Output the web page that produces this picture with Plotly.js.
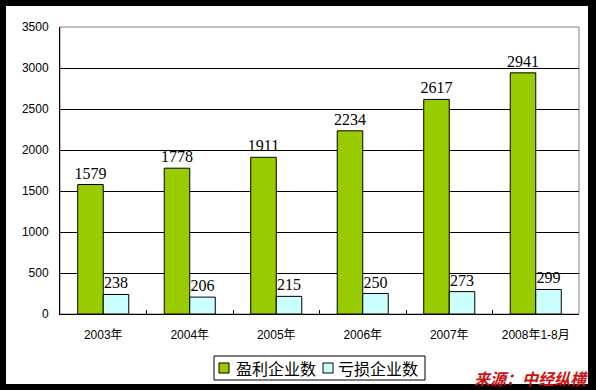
<!DOCTYPE html>
<html><head><meta charset="utf-8">
<script src="https://cdn.plot.ly/plotly-3.0.1.min.js"></script>
<style>
html,body{margin:0;padding:0;background:#000;width:596px;height:390px;overflow:hidden;}
#bg{position:absolute;left:6px;top:6px;width:582px;height:378px;background:#fff;}
#chart{position:absolute;left:0;top:0;width:596px;height:390px;}
</style></head>
<body><div id="bg"></div><div id="chart"></div>
<script>
const categories = ['2003年','2004年','2005年','2006年','2007年','2008年1-8月'];
const profitName = '盈利企业数';
const lossName = '亏损企业数';
const profitValues = [1579,1778,1911,2234,2617,2941];
const lossValues = [238,206,215,250,273,299];
const yTicks = [0,500,1000,1500,2000,2500,3000,3500];
const sourceText = '来源：中经纵横';

const profitColor = '#99CC00', lossColor = '#CCFFFF';
const labelFont = {family:'"Liberation Serif", "DejaVu Serif", serif', size:16, color:'#000'};
const traces = [
  {type:'bar', name:profitName, x:categories, y:profitValues,
   marker:{color:profitColor, line:{color:'#000', width:1}},
   text:profitValues.map(String), textposition:'outside', constraintext:'none',
   textfont:labelFont, cliponaxis:false},
  {type:'bar', name:lossName, x:categories, y:lossValues,
   marker:{color:lossColor, line:{color:'#000', width:1}},
   text:lossValues.map(String), textposition:'outside', constraintext:'none',
   textfont:labelFont, cliponaxis:false}
];

// plot area in page pixels: x 60..579, y 27..314
const PL = 60, PR = 579, PT = 27, PB = 314;
const px = v => (v - PL) / (PR - PL);
const py = v => (PB - v) / (PB - PT);

const legendFont = {family:'"Noto Sans CJK SC", sans-serif', size:16, color:'#000'};
const layout = {
  width:596, height:390,
  margin:{l:PL, r:596-PR, t:PT, b:390-PB},
  paper_bgcolor:'rgba(0,0,0,0)', plot_bgcolor:'#fff',
  barmode:'group', bargap:0.41, bargroupgap:0,
  font:{family:'"Liberation Sans", Arial, sans-serif', size:12, color:'#000'},
  xaxis:{type:'category', showline:true, linecolor:'#000', linewidth:1,
    ticks:'inside', tickson:'boundaries', ticklen:4, tickcolor:'#000',
    tickfont:{family:'"Liberation Sans", "Noto Sans CJK SC", sans-serif', size:12, color:'#000'},
    ticklabelstandoff:10, showgrid:false, fixedrange:true},
  yaxis:{range:[0,3500], tickvals:yTicks, ticktext:yTicks.map(String),
    showline:true, linecolor:'#000', linewidth:1,
    showgrid:true, gridcolor:'#000', gridwidth:1, zeroline:false, ticks:'',
    tickfont:{family:'"Liberation Sans", Arial, sans-serif', size:12, color:'#000'},
    ticklabelstandoff:8, fixedrange:true},
  showlegend:false,
  shapes:[
    {type:'rect', xref:'paper', yref:'paper', x0:0, x1:1, y0:0, y1:1,
     line:{color:'#808080', width:1}, layer:'below'},
    {type:'rect', xref:'paper', yref:'paper', x0:px(214), x1:px(425), y0:py(380), y1:py(356),
     line:{color:'#000', width:1}, fillcolor:'#fff'},
    {type:'rect', xref:'paper', yref:'paper', x0:px(219), x1:px(229), y0:py(373), y1:py(363),
     line:{color:'#000', width:1}, fillcolor:profitColor},
    {type:'rect', xref:'paper', yref:'paper', x0:px(323), x1:px(333), y0:py(373), y1:py(363),
     line:{color:'#000', width:1}, fillcolor:lossColor}
  ],
  annotations:[
    {text:profitName, xref:'paper', yref:'paper', x:px(234), y:py(368), xanchor:'left', yanchor:'middle',
     showarrow:false, font:legendFont},
    {text:lossName, xref:'paper', yref:'paper', x:px(336), y:py(368), xanchor:'left', yanchor:'middle',
     showarrow:false, font:legendFont},
    {text:'<b><i>'+sourceText+'</i></b>', xref:'paper', yref:'paper',
     x:px(591), y:py(378), xanchor:'right', yanchor:'middle', showarrow:false,
     font:{family:'"Noto Sans CJK SC", sans-serif', size:16, color:'#CC1111'}}
  ]
};
Plotly.newPlot('chart', traces, layout, {displayModeBar:false, staticPlot:true});
</script></body></html>
